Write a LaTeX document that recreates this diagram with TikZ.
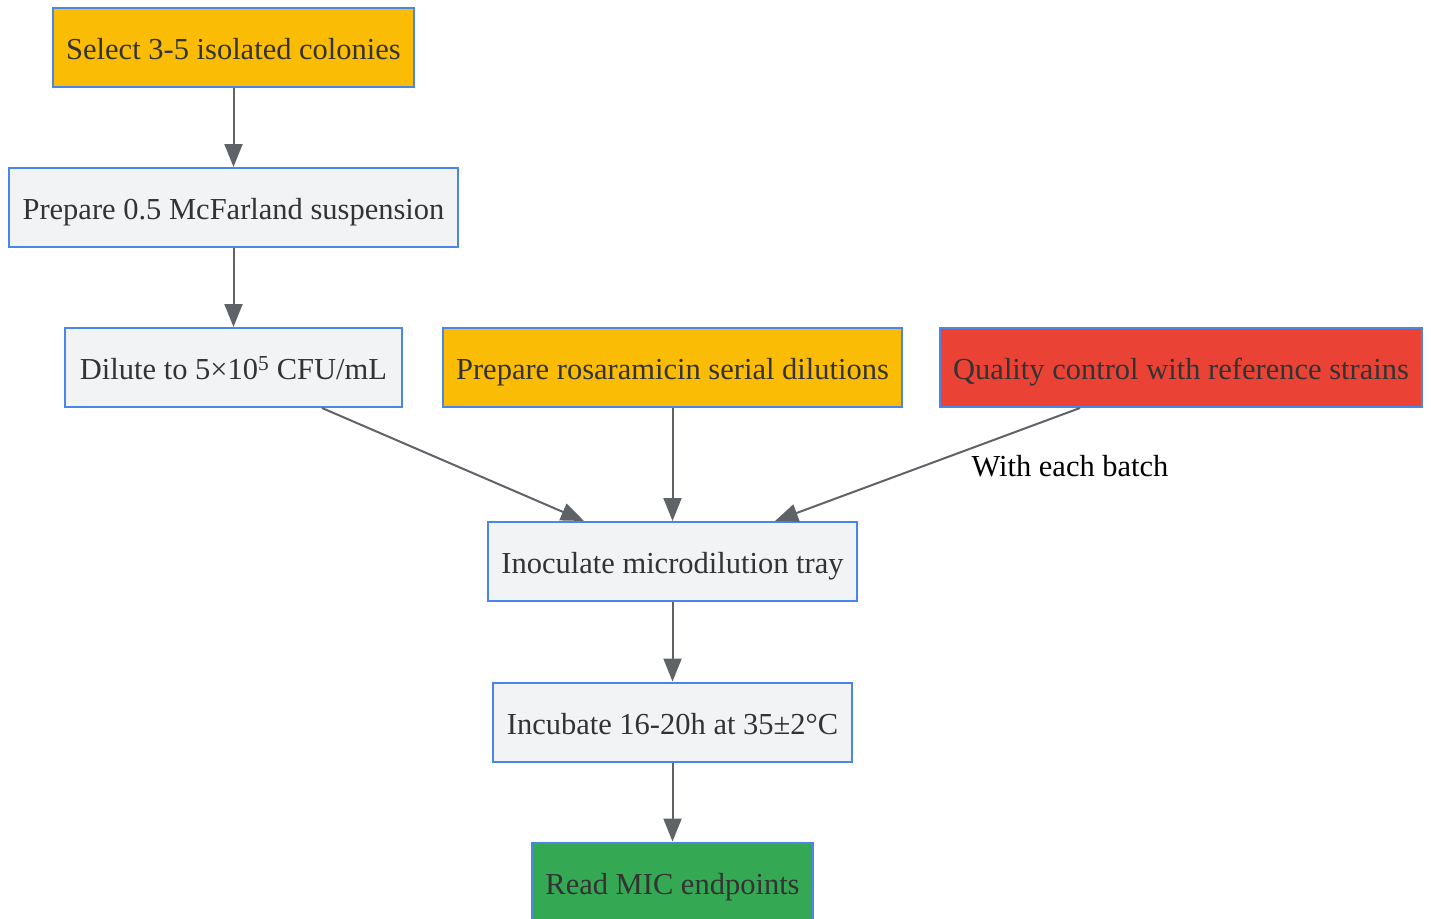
\documentclass[tikz,border=0pt]{standalone}
\usepackage{fontspec}
\setmainfont{Liberation Serif}
\usetikzlibrary{arrows.meta}
\definecolor{boxblue}{HTML}{4A86E8}
\definecolor{boxgray}{HTML}{F1F3F5}
\definecolor{amber}{HTML}{FBBC05}
\definecolor{qcred}{HTML}{EA4335}
\definecolor{okgreen}{HTML}{34A853}
\definecolor{arrgray}{HTML}{5F6368}
\definecolor{txtgray}{HTML}{333333}

\begin{document}
\begin{tikzpicture}[x=1pt,y=-1pt,
      box/.style={draw=boxblue,line width=2pt,fill=boxgray,text=txtgray,
        minimum height=79pt,inner xsep=13.5pt,text height=24pt,text depth=0pt,
        font=\fontsize{30.5}{36}\selectfont},
      arr/.style={draw=arrgray,line width=2pt,
        -{Triangle[length=23pt,width=18pt]}},
      lbl/.style={text=black,font=\fontsize{30.5}{36}\selectfont}]
    \useasboundingbox (0,0) rectangle (1431,918);
    \node[box,fill=amber] (sel) at (233.5,47.5) {Select 3-5 isolated colonies};
    \node[box] (mcf) at (233.5,207.5) {Prepare 0.5 McFarland suspension};
    \node[box,inner xsep=15pt] (dil) at (233.5,367.5) {Dilute to 5×10\textsuperscript{5} CFU/mL};
    \node[box,fill=amber] (ros) at (672.5,367.5) {Prepare rosaramicin serial dilutions};
    \node[box,fill=qcred] (qc) at (1181,367.5) {Quality control with reference strains};
    \node[box] (ino) at (672.5,561.5) {Inoculate microdilution tray};
    \node[box] (inc) at (672.5,722) {Incubate 16-20h at 35±2°C};
    \node[box,fill=okgreen] (mic) at (672.5,882) {Read MIC endpoints};
    \node[lbl] (batch) at (1070,466) {With each batch};

    \draw[arr] (sel) -- (mcf);
    \draw[arr] (mcf) -- (dil);
    \draw[arr] ([xshift=88.5pt]dil.south) -- ([xshift=-88.5pt]ino.north);
    \draw[arr] (ros) -- (ino);
    \draw[arr] ([xshift=-101pt]qc.south) -- ([xshift=102.5pt]ino.north);
    \draw[arr] (ino) -- (inc);
    \draw[arr] (inc) -- (mic);
  \end{tikzpicture}
\end{document}
